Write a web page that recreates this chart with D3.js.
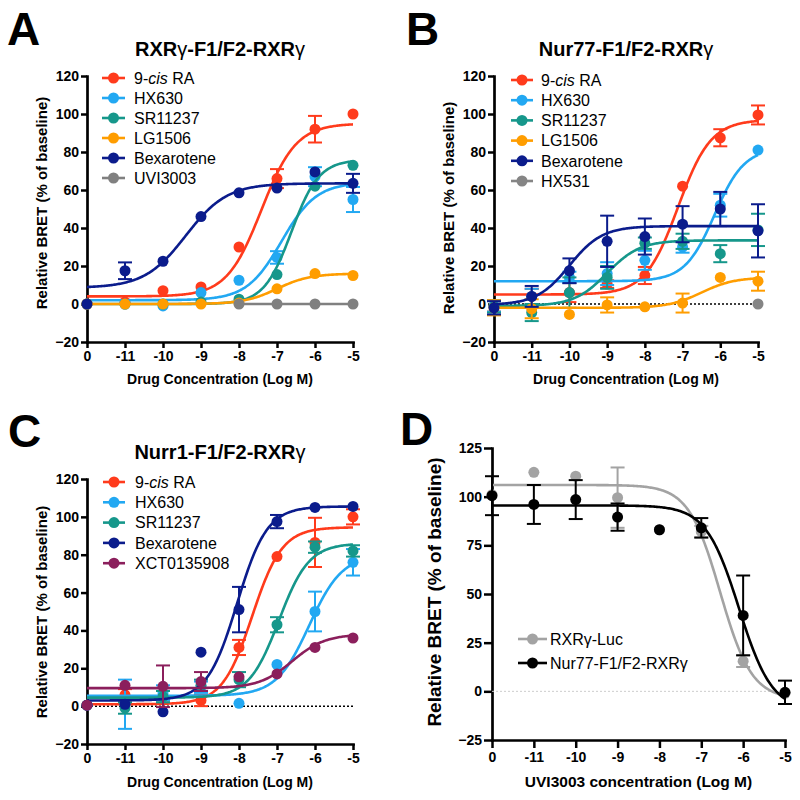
<!DOCTYPE html>
<html><head><meta charset="utf-8">
<script src="https://cdn.jsdelivr.net/npm/d3@7"></script>
<style>
body{margin:0;background:#fff}
text{font-family:"Liberation Sans",Arial,Helvetica,sans-serif}
</style>
</head><body>
<svg id="chart" width="800" height="800" xmlns="http://www.w3.org/2000/svg"></svg>
<script>
// ---------- shared tick data ----------
const xTickLabels = ["0","-11","-10","-9","-8","-7","-6","-5"];
const logDose = [-12,-11,-10,-9,-8,-7,-6,-5]; // vehicle ("0") plotted at the -12 slot
const yTicksABC = [-20,0,20,40,60,80,100,120];
const yTicksD = [-25,0,25,50,75,100,125];

// ---------- Panel A: RXRγ-F1/F2-RXRγ ----------
const aNames = ["9-cis RA","HX630","SR11237","LG1506","Bexarotene","UVI3003"];
const aMeans = [
  [0, 1, 7, 9, 30, 66, 92, 100],
  [0, 0, -1, 6, 12.5, 24.5, 67, 55],
  [0, 0, 0, 1, 2.5, 15.5, 62, 73],
  [0, 0, 0, 0, 0.5, 8, 16, 15],
  [0, 17.5, 22.5, 46, 58.5, 61, 69.5, 63.5],
  [null, null, null, null, 0, 0, 0, 0]
];
const aSem = [
  [0,0,0,0,0,5,7,0],
  [0,0,0,0,0,3.3,5,6.6],
  [0,0,0,0,0,0,0,0],
  [0,0,0,0,0,0,0,0],
  [0,4.4,0,0,0,0,0,5],
  [0,0,0,0,0,0,0,0]
];
// fit: [low-dose plateau, high-dose plateau, logEC50, Hill slope, first log dose of curve]
const aFits = [
  [4, 95, -7.41, 0.95, -12],
  [2, 64, -6.88, 0.95, -12],
  [0, 76, -6.62, 1.2, -12],
  [0, 16, -7.0, 1.0, -12],
  [8.5, 63.5, -9.4, 0.8, -12],
  [0, 0, -7, 1, -8]
];

// ---------- Panel B: Nur77-F1/F2-RXRγ ----------
const bNames = ["9-cis RA","HX630","SR11237","LG1506","Bexarotene","HX531"];
const bMeans = [
  [-1, 4, 6, 10.5, 15, 62, 87.5, 99.5],
  [-1, 4, 14, 16, 23, 30, 52, 81],
  [-1.5, -4.5, 6, 14, 32, 33, 26.5, 39],
  [-2, -2.5, -5.5, -0.5, -1.5, 0.5, 14, 12],
  [-2, 4, 17.5, 33, 35.5, 42, 50, 38.5],
  [null, null, null, null, null, null, null, 0]
];
const bSem = [
  [3, 4, 5, 2, 4.5, 0, 4.5, 5],
  [3, 4, 3, 6, 5, 3, 6, 0],
  [3, 4.5, 8, 6, 3, 4, 4.5, 8.5],
  [4, 5, 0, 4, 0, 5, 0, 5],
  [3.5, 5.5, 6.5, 13.5, 9.5, 9.5, 9, 14],
  [0, 0, 0, 0, 0, 0, 0, 0]
];
const bFits = [
  [5, 97, -7.12, 1.0, -12],
  [12, 82, -6.15, 1.1, -12],
  [-1, 33.5, -9.0, 1.0, -12],
  [-2, 14, -6.5, 1.0, -12],
  [-0.5, 41, -10.0, 1.0, -12],
  null
];

// ---------- Panel C: Nurr1-F1/F2-RXRγ ----------
const cNames = ["9-cis RA","HX630","SR11237","Bexarotene","XCT0135908"];
const cMeans = [
  [0.5, 6, 5, 3, 31, 79, 86.5, 100],
  [0.5, 1, 7, 10, 1.5, 22, 50, 76],
  [0.5, -1, 5, 11, 14, 43, 84, 82],
  [0.5, 1, -3, 28.5, 51, 97.5, 105, 105.5],
  [0.5, 11, 10.5, 13, 15.5, 17, 31, 36]
];
const cSem = [
  [0, 3, 3, 3, 4, 0, 13, 4],
  [0, 13, 4, 3, 0, 0, 10.5, 7],
  [0, 3, 3, 3, 4, 4, 3, 3],
  [0, 0, 0, 0, 12, 3.5, 0, 0],
  [0, 0, 11, 5, 0, 0, 0, 0]
];
const cFits = [
  [1, 94.5, -7.65, 1.1, -12],
  [5.5, 80, -6.15, 1.0, -12],
  [4.5, 86, -6.95, 1.1, -12],
  [3, 105.5, -8.05, 1.1, -12],
  [9.5, 38, -6.6, 1.0, -12]
];

// ---------- Panel D: UVI3003 ----------
const dNames = ["RXRγ-Luc","Nur77-F1/F2-RXRγ"];
const dMeans = [
  [101, 112.5, 110.5, 99.5, 83, 82, 15.5, -1],
  [100.5, 96, 98.5, 89.5, 83, 84, 39, -0.5]
];
const dSem = [
  [0, 0, 0, 15.5, 0, 3, 3, 0],
  [10, 10, 10, 7, 0, 5, 20.5, 6]
];
const dFits = [
  [106, -4, -6.55, 1.15, -12],
  [95.5, -10, -6.1, 1.1, -12]
];

// ---------- colours ----------
const drugColor = {
  "9-cis RA":"#FF3B1C","HX630":"#22A8F2","SR11237":"#16978B","LG1506":"#FF9D00",
  "Bexarotene":"#0B1C8C","UVI3003":"#808080","HX531":"#858585","XCT0135908":"#8B1F5C",
  "RXRγ-Luc":"#A3A3A3","Nur77-F1/F2-RXRγ":"#000000"
};

const svg = d3.select("#chart");
const FONT = '"Liberation Sans",Arial,Helvetica,sans-serif';

function fourPL(f, lx){ return f[0] + (f[1]-f[0])/(1+Math.pow(10,(f[2]-lx)*f[3])); }

function legendLabel(sel, name){
  if(name==="9-cis RA"){
    sel.append("tspan").text("9-");
    sel.append("tspan").attr("font-style","italic").text("cis");
    sel.append("tspan").text(" RA");
  } else sel.text(name);
}

function drawPanel(cfg){
  const g = svg.append("g");
  const x = d3.scaleLinear().domain([-12,-5]).range([cfg.left, cfg.right]);
  const y = d3.scaleLinear().domain(cfg.yDomain).range([cfg.bottom, cfg.top]);

  // axes
  const ya = g.append("g").attr("transform",`translate(${cfg.left},0)`)
    .call(d3.axisLeft(y).tickValues(cfg.yTicks).tickSize(cfg.tick).tickSizeOuter(0).tickPadding(cfg.ypad));
  const xa = g.append("g").attr("transform",`translate(0,${cfg.bottom})`)
    .call(d3.axisBottom(x).tickValues(logDose).tickFormat((d,i)=>xTickLabels[i]).tickSize(cfg.tick).tickSizeOuter(0).tickPadding(cfg.xpad));
  [ya,xa].forEach(a=>{
    a.select(".domain").attr("stroke","#000").attr("stroke-width",2.7).attr("stroke-linecap","square");
    a.selectAll(".tick line").attr("stroke","#000").attr("stroke-width",2.5);
    a.selectAll(".tick text").attr("font-family",FONT).attr("font-size",cfg.tickFont).attr("font-weight","bold").attr("fill","#000");
  });

  // zero baseline (dotted)
  if(cfg.zeroLine){
    g.append("line").attr("x1",x(-12)).attr("x2",x(-5)).attr("y1",y(0)).attr("y2",y(0))
      .attr("stroke",cfg.zeroLine).attr("stroke-width",cfg.zeroWidth).attr("stroke-dasharray","2,2");
  }

  // series
  const line = d3.line().x(d=>x(d[0])).y(d=>y(d[1])).curve(d3.curveLinear);
  cfg.names.forEach((name,si)=>{
    const col = drugColor[name];
    const f = cfg.fits[si];
    if(f){
      const pts = d3.range(0,241).map(k=>{ const lx = f[4] + (-5 - f[4])*k/240; return [lx, fourPL(f,lx)]; });
      g.append("path").attr("d",line(pts)).attr("fill","none").attr("stroke",col).attr("stroke-width",2.6);
    }
    cfg.means[si].forEach((m,i)=>{
      if(m===null) return;
      const e = cfg.sem[si][i];
      const cx = x(logDose[i]);
      if(e>0){
        g.append("line").attr("x1",cx).attr("x2",cx).attr("y1",y(m-e)).attr("y2",y(m+e)).attr("stroke",col).attr("stroke-width",2);
        [m-e,m+e].forEach(v=>g.append("line").attr("x1",cx-7).attr("x2",cx+7).attr("y1",y(v)).attr("y2",y(v)).attr("stroke",col).attr("stroke-width",2));
      }
    });
    cfg.means[si].forEach((m,i)=>{
      if(m===null) return;
      g.append("circle").attr("cx",x(logDose[i])).attr("cy",y(m)).attr("r",5.5).attr("fill",col);
    });
  });

  // legend
  cfg.names.forEach((name,si)=>{
    const col = drugColor[name];
    const ly = cfg.legY + si*cfg.legStep;
    g.append("line").attr("x1",cfg.legX0).attr("x2",cfg.legX1).attr("y1",ly).attr("y2",ly).attr("stroke",col).attr("stroke-width",2.6);
    g.append("circle").attr("cx",(cfg.legX0+cfg.legX1)/2).attr("cy",ly).attr("r",5.5).attr("fill",col);
    const t = g.append("text").attr("x",cfg.legTextX).attr("y",ly+cfg.legFont*0.36)
      .attr("font-size",cfg.legFont).attr("fill","#000");
    legendLabel(t,name);
  });

  // title
  if(cfg.title){
    const t = g.append("text").attr("x",(cfg.left+cfg.right)/2).attr("y",cfg.titleY)
      .attr("text-anchor","middle").attr("font-size",20).attr("font-weight","bold");
    cfg.title.split(/(γ)/).forEach(part=>{
      if(!part) return;
      const s = t.append("tspan").text(part);
      if(part==="γ") s.attr("font-weight","normal");
    });
  }
  // panel letter
  g.append("text").attr("x",cfg.letterX).attr("y",cfg.letterY).attr("font-size",46).attr("font-weight","bold").text(cfg.letter);

  // axis titles
  g.append("text").attr("transform",`translate(${cfg.yLabX},${cfg.yLabY}) rotate(-90)`)
    .attr("text-anchor","middle").attr("font-size",cfg.yLabFont).attr("font-weight","bold").text("Relative BRET (% of baseline)");
  g.append("text").attr("x",(cfg.left+cfg.right)/2).attr("y",cfg.xLabY)
    .attr("text-anchor","middle").attr("font-size",cfg.xLabFont).attr("font-weight","bold").text(cfg.xLabel);
}

drawPanel({letter:"A",letterX:7,letterY:45,title:"RXRγ-F1/F2-RXRγ",titleY:56,
  left:87,right:353,bottom:342,top:76,yDomain:[-20,120],yTicks:yTicksABC,tick:6,ypad:2,xpad:3,tickFont:14,
  names:aNames,means:aMeans,sem:aSem,fits:aFits,zeroLine:null,
  legY:78,legStep:20,legX0:102,legX1:125,legTextX:134,legFont:16,
  yLabX:47,yLabY:203,yLabFont:15,xLabY:384,xLabFont:14,xLabel:"Drug Concentration (Log M)"});

drawPanel({letter:"B",letterX:406,letterY:45,title:"Nur77-F1/F2-RXRγ",titleY:56,
  left:494,right:758,bottom:342,top:76,yDomain:[-20,120],yTicks:yTicksABC,tick:6,ypad:2,xpad:3,tickFont:14,
  names:bNames,means:bMeans,sem:bSem,fits:bFits,zeroLine:"#000",zeroWidth:1.5,
  legY:80,legStep:20.2,legX0:511,legX1:533,legTextX:541,legFont:16,
  yLabX:454,yLabY:208,yLabFont:15,xLabY:384,xLabFont:14,xLabel:"Drug Concentration (Log M)"});

drawPanel({letter:"C",letterX:8,letterY:447,title:"Nurr1-F1/F2-RXRγ",titleY:459,
  left:87,right:353,bottom:744,top:479,yDomain:[-20,120],yTicks:yTicksABC,tick:6,ypad:2,xpad:3,tickFont:14,
  names:cNames,means:cMeans,sem:cSem,fits:cFits,zeroLine:"#000",zeroWidth:1.5,
  legY:482,legStep:20.3,legX0:103,legX1:125,legTextX:135,legFont:16,
  yLabX:47,yLabY:612,yLabFont:15,xLabY:787,xLabFont:14,xLabel:"Drug Concentration (Log M)"});

drawPanel({letter:"D",letterX:400,letterY:445,title:null,
  left:492,right:785,bottom:740,top:448,yDomain:[-25,125],yTicks:yTicksD,tick:8,ypad:2,xpad:4,tickFont:14,
  names:dNames,means:dMeans,sem:dSem,fits:dFits,zeroLine:"#cccccc",zeroWidth:1,
  legY:639,legStep:24,legX0:518,legX1:547,legTextX:550,legFont:16,
  yLabX:441,yLabY:592,yLabFont:19,xLabY:787,xLabFont:15.5,xLabel:"UVI3003 concentration (Log M)"});
</script>
</body></html>
